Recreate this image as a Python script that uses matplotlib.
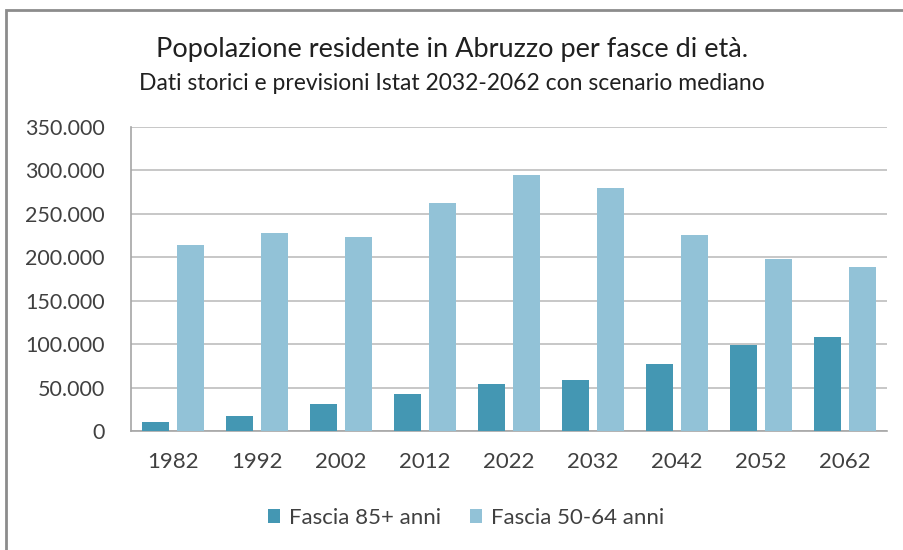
import matplotlib

matplotlib.use("Agg")
import matplotlib.pyplot as plt
import numpy as np
from matplotlib.patches import Rectangle
from matplotlib.ticker import FuncFormatter

YEARS = ["1982", "1992", "2002", "2012", "2022", "2032", "2042", "2052", "2062"]
FASCIA_85 = [10700, 17600, 30700, 43000, 53700, 58700, 76800, 99000, 108200]
FASCIA_50_64 = [214000, 227600, 223700, 263000, 294700, 279400, 225300, 197600, 189200]
LABELS = ["Fascia 85+ anni", "Fascia 50-64 anni"]
COLORS = ["#4497B3", "#92C2D7"]

plt.rcParams["font.family"] = ["Lato", "DejaVu Sans"]

fig = plt.figure(figsize=(9.04, 5.50), dpi=100)
# grey frame, only the top and left edges show in the source image
fig.patches.append(
    Rectangle((6 / 904, -0.1), 1.2, 1.1 - 10 / 550, transform=fig.transFigure,
              fill=False, edgecolor="#8C8C8C", linewidth=2.0)
)
ax = fig.add_axes([131 / 904, 1 - 431 / 550, 756 / 904, 304 / 550])

x = np.arange(len(YEARS))
width = 0.32
ax.bar(x - 0.21, FASCIA_85, width, color=COLORS[0], label=LABELS[0], zorder=3)
ax.bar(x + 0.21, FASCIA_50_64, width, color=COLORS[1], label=LABELS[1], zorder=3)

ax.set_xlim(-0.5, len(YEARS) - 0.5)
ax.set_ylim(0, 350000)
ax.set_yticks(np.arange(0, 350001, 50000))
ax.yaxis.set_major_formatter(
    FuncFormatter(lambda v, _: f"{int(v):,}".replace(",", ".") if v else "0")
)
ax.set_xticks(x)
ax.set_xticklabels(YEARS)
ax.tick_params(axis="y", length=0, labelsize=15.5, colors="#404040", pad=19)
ax.tick_params(axis="x", length=0, labelsize=16, colors="#404040", pad=15)
ax.grid(axis="y", color="#BEBEBE", linewidth=1.2, zorder=0)
for side in ("top", "right"):
    ax.spines[side].set_visible(False)
for side in ("left", "bottom"):
    ax.spines[side].set_color("#A6A6A6")
    ax.spines[side].set_linewidth(1.2)

fig.text(0.5, 1 - 50 / 550, "Popolazione residente in Abruzzo per fasce di età.",
         ha="center", va="center", fontsize=19.5, color="#202020")
fig.text(0.5, 1 - 83 / 550, "Dati storici e previsioni Istat 2032-2062 con scenario mediano",
         ha="center", va="center", fontsize=16.5, color="#202020")

fig.legend(loc="center", bbox_to_anchor=(466 / 904, 1 - 518 / 550), ncol=2, frameon=False,
           fontsize=16, handlelength=0.55, handleheight=0.55, handletextpad=0.4,
           columnspacing=1.3, labelcolor="#404040")

fig.savefig("out.png", dpi=100)
